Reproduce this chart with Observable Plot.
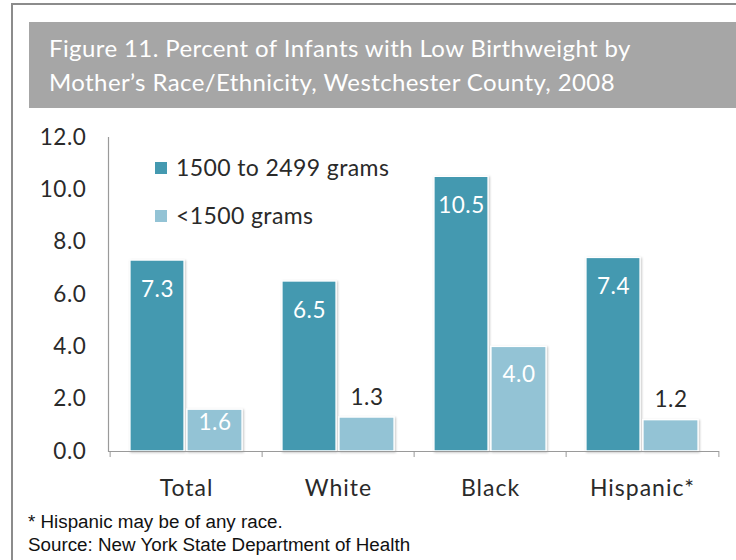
<!DOCTYPE html>
<html><head><meta charset="utf-8">
<script src="https://cdn.jsdelivr.net/npm/d3@7"></script>
<script src="https://cdn.jsdelivr.net/npm/@observablehq/plot@0.6"></script>
<style>
body{margin:0;background:#fff;}
#wrap{position:relative;width:736px;height:560px;overflow:hidden;font-family:Lato,sans-serif;background:#fff;}
.bt{position:absolute;left:11px;top:3px;width:730px;height:2px;background:#8c8c8c;}
.bl{position:absolute;left:11px;top:3px;width:2px;height:560px;background:#8c8c8c;}
#title{position:absolute;left:29px;top:22px;width:720px;height:86px;background:#a6a6a6;color:#fff;font-size:24px;letter-spacing:0.4px;line-height:34px;padding:9px 0 0 20px;box-sizing:border-box;white-space:nowrap;}
#chart{position:absolute;left:0;top:0;}
#legend{position:absolute;left:155px;top:155px;font-size:23px;letter-spacing:0.4px;color:#2a2a2a;}
#legend .row{position:absolute;left:0;white-space:nowrap;height:24px;line-height:24px;}
#legend .sw{position:absolute;left:0;top:7px;width:12px;height:12px;}
#legend .lb{position:absolute;left:21px;top:0;}
#notes{position:absolute;left:28px;top:510px;font-family:"Liberation Sans",Arial,sans-serif;font-size:18.8px;color:#111;line-height:23px;white-space:nowrap;}
g[aria-label="bar"] rect{filter:drop-shadow(1.5px 1.5px 1px rgba(0,0,0,0.22));}
g[aria-label="x-axis tick label"] text{letter-spacing:1px;}
g[aria-label="y-axis tick label"] text{letter-spacing:0.6px;}
g[aria-label="text"] text{letter-spacing:0.5px;}
</style></head><body>
<div id="wrap">
  <div class="bt"></div><div class="bl"></div>
  <div id="title"></div>
  <div id="chart"></div>
  <div id="legend"></div>
  <div id="notes"></div>
</div>
<script>
const titleLines = ["Figure 11. Percent of Infants with Low Birthweight by", "Mother’s Race/Ethnicity, Westchester County, 2008"];
const categories = ["Total", "White", "Black", "Hispanic*"];
const seriesNames = ["1500 to 2499 grams", "<1500 grams"];
const moderateLow = [7.3, 6.5, 10.5, 7.4];   // 1500 to 2499 grams
const veryLow = [1.6, 1.3, 4.0, 1.2];        // <1500 grams
const yTicks = [0, 2, 4, 6, 8, 10, 12];
const colors = ["#4499b0", "#93c3d5"];
const notes = ["* Hispanic may be of any race.", "Source: New York State Department of Health"];

document.getElementById("title").innerHTML = titleLines.join("<br>");
document.getElementById("notes").innerHTML = notes.join("<br>");
const leg = document.getElementById("legend");
seriesNames.forEach((s, i) => {
  const row = document.createElement("div");
  row.className = "row";
  row.style.top = (i * 48) + "px";
  row.innerHTML = `<span class="sw" style="background:${colors[i]}"></span><span class="lb"></span>`;
  row.querySelector(".lb").textContent = s;
  leg.appendChild(row);
});

const dataA = categories.map((c, i) => ({cat: c, v: moderateLow[i]}));
const dataB = categories.map((c, i) => ({cat: c, v: veryLow[i]}));

const W = 736, H = 560, mL = 108, mR = 17, mT = 137, mB = 109;
const band = (W - mL - mR) / categories.length;
const half = band / 2;
const axisColor = "#9a9a9a";
const fmt = d => d.toFixed(1);

const plot = Plot.plot({
  width: W, height: H,
  marginLeft: mL, marginRight: mR, marginTop: mT, marginBottom: mB,
  style: {fontFamily: "Lato, sans-serif", background: "transparent", overflow: "visible"},
  x: {type: "band", domain: categories, padding: 0, label: null},
  y: {domain: [0, 12], label: null},
  marks: [
    Plot.barY(dataA, {x: "cat", y: "v", fill: colors[0], stroke: "white", strokeWidth: 1.5,
      insetLeft: half - 56.5, insetRight: half + 1.5}),
    Plot.barY(dataB, {x: "cat", y: "v", fill: colors[1], stroke: "white", strokeWidth: 1.5,
      insetLeft: half + 0.5, insetRight: half - 56.5}),
    Plot.frame({anchor: "left", stroke: axisColor, strokeWidth: 1.2}),
    Plot.ruleY([0], {stroke: axisColor, strokeWidth: 1.2}),
    Plot.ruleX(categories, {x: d => d, y1: 0, y2: -0.23, dx: -half, stroke: axisColor}),
    Plot.ruleX([categories[categories.length - 1]], {x: d => d, y1: 0, y2: -0.23, dx: half, stroke: axisColor}),
    Plot.axisY(yTicks, {tickSize: 0, tickPadding: 22, tickFormat: fmt, fontSize: 22.5, fill: "#2a2a2a", label: null}),
    Plot.axisX({tickSize: 0, tickPadding: 28, fontSize: 23, fill: "#2a2a2a", label: null}),
    Plot.text(dataA, {x: "cat", y: "v", text: d => fmt(d.v), dx: -29, dy: 29, fill: "white", fontSize: 22.5}),
    Plot.text(dataB, {filter: d => d.v >= 3, x: "cat", y: "v", text: d => fmt(d.v), dx: 28.5, dy: 28, fill: "white", fontSize: 22.5}),
    Plot.text(dataB, {filter: d => d.v >= 1.5 && d.v < 3, x: "cat", y: "v", text: d => fmt(d.v), dx: 28.5, dy: 13, fill: "white", fontSize: 22.5}),
    Plot.text(dataB, {filter: d => d.v < 1.5, x: "cat", y: "v", text: d => fmt(d.v), dx: 28.5, dy: -20, fill: "#2a2a2a", fontSize: 22.5})
  ]
});
document.getElementById("chart").appendChild(plot);
</script>
</body></html>
